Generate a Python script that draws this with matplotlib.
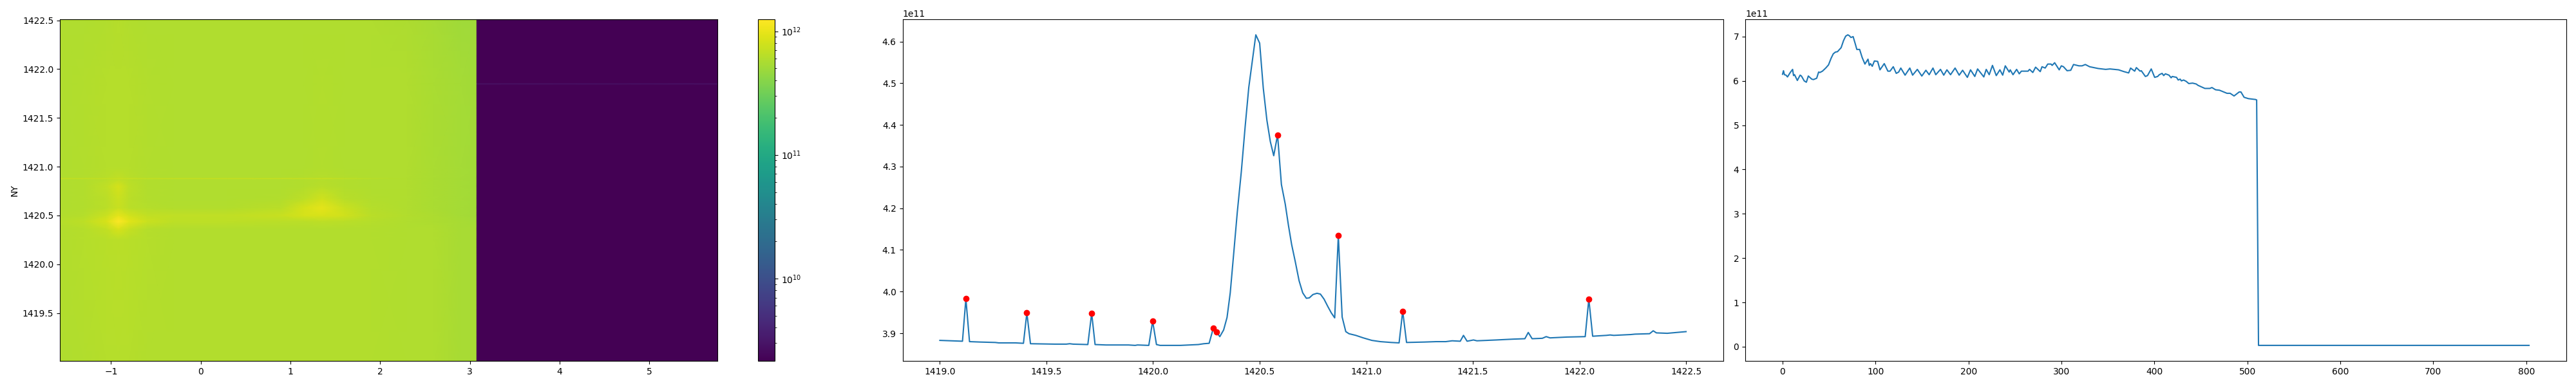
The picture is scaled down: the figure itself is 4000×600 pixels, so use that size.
import matplotlib
matplotlib.use('Agg')
import matplotlib.pyplot as plt
import numpy as np
from matplotlib.colors import LogNorm

# heatmap grid, values in units of 1e11
map_x = [-1.57, -1.3, -1.05, -0.92, -0.8, -0.6, -0.3, 0.3, 0.9, 1.15, 1.35, 1.6, 1.9, 2.3, 2.6, 2.9, 3.07, 3.08, 5.76]
map_y = [1419.01, 1420.25, 1420.36, 1420.44, 1420.5, 1420.58, 1420.67, 1420.8, 1420.87, 1420.88, 1420.89,
         1421.0, 1421.84, 1421.85, 1421.86, 1422.51]
base_row = [5.9, 6.0, 6.1, 6.2, 6.1, 6.0, 5.9, 5.9, 5.9, 5.9, 6.0, 5.9, 5.9, 5.8, 5.6, 5.3, 5.2, 0.022, 0.022]
bottom_row = [5.8, 6.0, 6.1, 6.2, 6.1, 6.0, 6.0, 6.0, 6.0, 6.0, 6.0, 6.0, 6.0, 5.9, 5.8, 5.5, 5.4, 0.022, 0.022]
low_row = [6.0, 6.1, 6.3, 6.5, 6.3, 6.1, 6.0, 6.0, 6.0, 6.0, 6.0, 6.0, 6.0, 5.9, 5.8, 5.5, 5.4, 0.022, 0.022]
rise_row = [6.0, 6.2, 7.0, 8.6, 7.2, 6.2, 6.0, 6.0, 6.0, 6.0, 6.0, 6.0, 6.0, 5.9, 5.8, 5.5, 5.4, 0.022, 0.022]
peak_row = [6.2, 6.6, 8.6, 12.5, 9.4, 7.6, 6.7, 6.6, 6.5, 6.5, 6.6, 6.4, 6.1, 5.9, 5.7, 5.4, 5.3, 0.022, 0.022]
mid_row = [6.0, 6.2, 7.6, 9.6, 8.0, 6.9, 6.8, 6.8, 7.4, 8.2, 8.4, 7.9, 6.5, 6.0, 5.7, 5.3, 5.2, 0.022, 0.022]
hump_row = [5.9, 6.0, 6.4, 7.3, 6.5, 6.1, 6.0, 6.0, 6.4, 8.2, 9.6, 7.6, 6.2, 5.9, 5.6, 5.3, 5.2, 0.022, 0.022]
upper_row = [5.9, 6.0, 6.4, 7.6, 6.5, 6.0, 5.9, 5.9, 6.0, 6.6, 7.8, 6.3, 6.0, 5.8, 5.6, 5.3, 5.2, 0.022, 0.022]
blob_row = [5.9, 6.0, 6.8, 8.2, 6.6, 6.0, 5.9, 5.9, 5.9, 6.0, 6.3, 6.0, 5.9, 5.8, 5.6, 5.3, 5.2, 0.022, 0.022]
under_row = [5.9, 6.0, 6.3, 6.8, 6.3, 6.0, 5.9, 5.9, 5.9, 6.0, 6.1, 6.0, 5.9, 5.8, 5.6, 5.3, 5.2, 0.022, 0.022]
streak_row = [7.4, 7.2, 7.2, 7.6, 7.4, 7.2, 7.4, 7.4, 7.5, 7.4, 7.6, 7.0, 6.4, 5.9, 5.6, 5.3, 5.2, 0.022, 0.022]
line_row = [5.9, 6.0, 6.1, 6.2, 6.1, 6.0, 5.9, 5.9, 5.9, 5.9, 6.0, 5.9, 5.9, 5.8, 5.6, 5.3, 5.2, 0.03, 0.03]
top_row = [5.8, 5.9, 6.0, 6.2, 6.0, 5.9, 5.9, 5.9, 5.9, 5.9, 5.9, 5.9, 5.8, 5.7, 5.4, 5.1, 5.0, 0.022, 0.022]
map_rows = [bottom_row, low_row, rise_row, peak_row, mid_row, hump_row, upper_row, blob_row, under_row,
            streak_row, under_row, base_row, base_row, line_row, base_row, top_row]

# spectrum with picked peaks (middle panel)
spec_x = [1419.0, 1419.106, 1419.122, 1419.139, 1419.19, 1419.26, 1419.276, 1419.355, 1419.392, 1419.408,
          1419.425, 1419.54, 1419.593, 1419.609, 1419.625, 1419.694, 1419.712, 1419.728, 1419.779, 1419.885,
          1419.916, 1419.927, 1419.98, 1419.998, 1420.016, 1420.033, 1420.128, 1420.212, 1420.238, 1420.263,
          1420.283, 1420.298, 1420.313, 1420.331, 1420.347, 1420.362, 1420.378, 1420.395, 1420.414, 1420.432,
          1420.449, 1420.482, 1420.5, 1420.517, 1420.534, 1420.55, 1420.566, 1420.584, 1420.602, 1420.62,
          1420.635, 1420.65, 1420.667, 1420.685, 1420.702, 1420.719, 1420.733, 1420.75, 1420.769, 1420.785,
          1420.802, 1420.82, 1420.836, 1420.852, 1420.869, 1420.887, 1420.904, 1420.919, 1420.951, 1420.986,
          1421.026, 1421.066, 1421.117, 1421.154, 1421.171, 1421.189, 1421.272, 1421.328, 1421.373, 1421.403,
          1421.441, 1421.456, 1421.473, 1421.503, 1421.519, 1421.61, 1421.689, 1421.744, 1421.76, 1421.778,
          1421.826, 1421.844, 1421.862, 1421.942, 1422.027, 1422.044, 1422.062, 1422.126, 1422.144, 1422.161,
          1422.241, 1422.261, 1422.329, 1422.346, 1422.361, 1422.412, 1422.5]
spec_y = [3.883, 3.881, 3.983, 3.880, 3.879, 3.878, 3.877, 3.877, 3.876, 3.949,
          3.875, 3.874, 3.874, 3.875, 3.874, 3.873, 3.948, 3.873, 3.872, 3.872,
          3.871, 3.872, 3.871, 3.929, 3.873, 3.871, 3.871, 3.873, 3.875, 3.876,
          3.913, 3.903, 3.892, 3.908, 3.938, 3.997, 4.09, 4.19, 4.288, 4.396,
          4.49, 4.616, 4.596, 4.488, 4.411, 4.36, 4.326, 4.376, 4.257, 4.21,
          4.159, 4.113, 4.072, 4.026, 3.997, 3.984, 3.985, 3.993, 3.996, 3.994,
          3.982, 3.964, 3.949, 3.937, 4.134, 3.939, 3.904, 3.899, 3.895, 3.889,
          3.883, 3.88, 3.878, 3.877, 3.953, 3.878, 3.879, 3.88, 3.88, 3.882,
          3.881, 3.895, 3.881, 3.884, 3.882, 3.884, 3.886, 3.887, 3.902, 3.887,
          3.888, 3.892, 3.889, 3.891, 3.892, 3.982, 3.893, 3.895, 3.896, 3.895,
          3.897, 3.898, 3.899, 3.906, 3.901, 3.90, 3.904]
peak_x = [1419.122, 1419.408, 1419.712, 1419.998, 1420.283, 1420.298, 1420.584, 1420.869, 1421.171, 1422.044]
peak_y = [3.983, 3.949, 3.948, 3.929, 3.913, 3.903, 4.376, 4.134, 3.953, 3.982]

# one slice through the map (right panel)
slice_x = [0, 1, 2, 3.7, 5.3, 8.3, 10.8, 11.8, 12.9, 15.9, 18.9, 20.3, 23.3, 25.6, 27.7, 31.4, 33.2, 36.7, 38.8,
           40.2, 42.9, 46.4, 49.4, 52.2, 54.5, 56.8, 59.1, 63, 65.6, 67.9, 70.2, 71.8, 73.6, 75.9, 78.3, 79.9,
           82.9, 85.6, 88.6, 91.9, 93.3, 94.6, 96.5, 98.8, 102.3, 104.8, 109.4, 113.3, 115.6, 119.1, 122.3,
           124.9, 127.2, 131.8, 136.9, 139.9, 145, 149.8, 154.2, 157.7, 161.8, 164.8, 169.9, 173.4, 176.8,
           180.7, 185.6, 190, 193.7, 198.8, 202.2, 206.8, 209.8, 216.5, 219.1, 222.3, 225.8, 229.9, 233.8,
           236.8, 239.6, 243.8, 244.9, 247.9, 251.8, 254.6, 256.9, 264.1, 265.7, 269.2, 272.2, 277.2, 279.1,
           282.5, 285.3, 288.8, 290, 292.7, 297.6, 299.9, 302.2, 306.1, 310, 313, 318.8, 322.2, 325.7, 330.3,
           339.5, 347.6, 352.2, 361.5, 367.2, 372.3, 374.4, 378.8, 380.6, 384.6, 385.9, 390.3, 392.6, 396.6,
           400.3, 403.5, 405.3, 408.3, 410, 411.8, 415.7, 418, 419.2, 423.8, 425.6, 427.7, 429.1, 431.4, 434.2,
           437, 441.1, 445, 446.9, 454.3, 459.6, 461.9, 465.8, 470, 478.1, 481.5, 485.7, 491.2, 493.1, 496.5,
           501.1, 508.8, 510, 512, 803]
slice_y = [6.15, 6.23, 6.14, 6.13, 6.09, 6.19, 6.26, 6.12, 6.14, 6.01, 6.13, 6.11, 6.0, 5.97, 6.11, 6.04, 6.03, 6.06, 6.2,
           6.19, 6.22, 6.29, 6.36, 6.51, 6.61, 6.65, 6.66, 6.75, 6.91, 7.01, 7.04, 7.02, 6.98, 7.0, 6.83, 6.71,
           6.71, 6.53, 6.38, 6.49, 6.35, 6.39, 6.33, 6.45, 6.44, 6.25, 6.39, 6.22, 6.22, 6.32, 6.17,
           6.2, 6.29, 6.13, 6.29, 6.13, 6.26, 6.11, 6.24, 6.14, 6.29, 6.14, 6.26, 6.13, 6.25,
           6.14, 6.29, 6.13, 6.24, 6.08, 6.25, 6.1, 6.27, 6.09, 6.26, 6.14, 6.35, 6.12, 6.25,
           6.13, 6.34, 6.2, 6.25, 6.14, 6.26, 6.16, 6.22, 6.22, 6.26, 6.19, 6.31, 6.21, 6.32,
           6.29, 6.38, 6.38, 6.35, 6.41, 6.25, 6.34, 6.32, 6.23, 6.24, 6.37, 6.34, 6.34, 6.37, 6.32,
           6.28, 6.26, 6.27, 6.25, 6.21, 6.18, 6.29, 6.22, 6.30, 6.22, 6.23, 6.1, 6.12, 6.27,
           6.08, 6.1, 6.14, 6.17, 6.12, 6.16, 6.13, 6.07, 6.1, 6.08, 6.02, 6.04, 6.0, 6.02, 5.99,
           5.94, 5.95, 5.93, 5.9, 5.83, 5.83, 5.85, 5.8, 5.79, 5.72, 5.72, 5.66, 5.75, 5.75, 5.63,
           5.6, 5.58, 5.57, 0.03, 0.03]

fig = plt.figure(figsize=(40, 6), dpi=100)
ax1 = fig.add_axes([93 / 4000, 0.065, 1021 / 4000, 0.885])
cax = fig.add_axes([1177 / 4000, 0.065, 26 / 4000, 0.885])
ax2 = fig.add_axes([1401.5 / 4000, 0.065, 1274.5 / 4000, 0.885])
ax3 = fig.add_axes([2710 / 4000, 0.065, 1275 / 4000, 0.885])

z = np.array(map_rows) * 1e11
mesh = ax1.pcolormesh(map_x, map_y, z, shading='gouraud', cmap='viridis', norm=LogNorm(vmin=2.15e9, vmax=1.25e12))
ax1.set_xlim(-1.57, 5.76)
ax1.set_ylim(1419.01, 1422.51)
ax1.set_ylabel('NY')
fig.colorbar(mesh, cax=cax)

ax2.plot(np.array(spec_x), np.array(spec_y) * 1e11)
ax2.plot(np.array(peak_x), np.array(peak_y) * 1e11, 'ro')

ax3.plot(np.array(slice_x), np.array(slice_y) * 1e11)

fig.savefig('out.png', dpi=100)
